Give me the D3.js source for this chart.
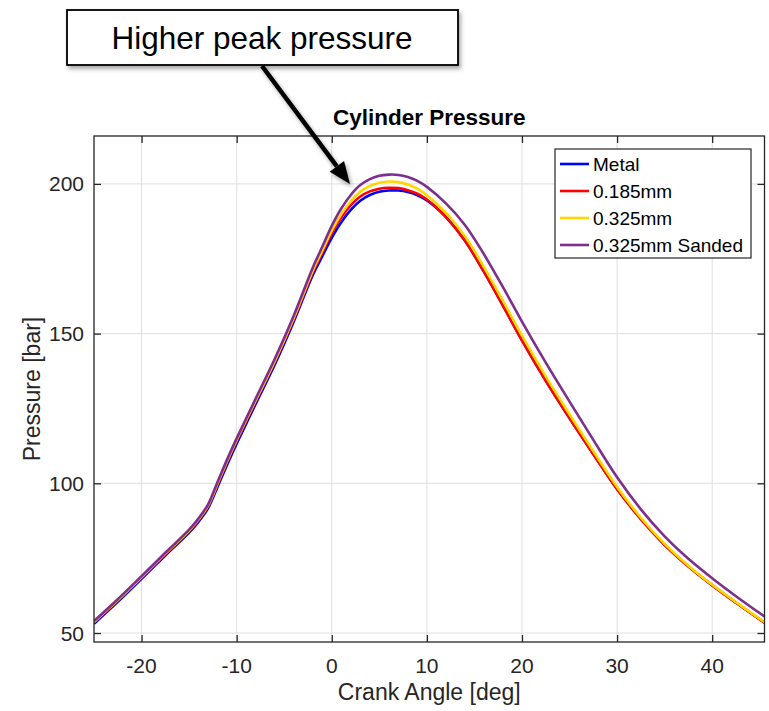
<!DOCTYPE html>
<html>
<head>
<meta charset="utf-8">
<script src="https://cdn.jsdelivr.net/npm/d3@7"></script>
<style>
  html, body { margin: 0; padding: 0; background: #fff; }
  svg { display: block; font-family: "Liberation Sans", Arial, sans-serif; }
</style>
</head>
<body>
<svg id="chart" width="769" height="711"></svg>
<script>
// ---------------- data ----------------
const angles = [-25,-22.5,-20,-17.5,-15,-14,-13,-12,-11,-10,-8,-6,-4,-2,-1,0,1,2,3,4,5,6,7,8,9,10,12,14,16,18,20,22.5,25,27.5,30,32.5,35,37.5,40,42.5,45.5];

const metal = [53.1,60.4,68.1,75.9,83.5,87.2,91.7,98.9,106.2,113.2,126.5,139.6,154.0,169.5,175.8,182.0,187.2,191.3,194.4,196.3,197.4,197.8,197.8,197.3,196.2,194.5,189.0,181.1,170.7,159.4,147.8,134.3,121.8,109.8,98.1,88.1,79.5,72.3,66.0,60.2,53.5];
const mm0185 = [53.6,60.9,68.6,76.4,84.1,87.8,92.4,99.7,107.2,114.2,127.4,140.5,154.8,170.4,177.0,183.5,188.8,192.9,195.8,197.5,198.4,198.7,198.6,197.9,196.7,194.8,188.9,181.0,170.6,159.3,147.7,134.2,121.7,109.7,98.0,88.0,79.4,72.2,65.9,60.1,53.4];
const mm0325 = [53.7,61.0,68.7,76.5,84.2,88.0,92.6,100.0,107.5,114.5,127.7,140.8,155.2,171.0,177.7,184.4,189.9,194.2,197.4,199.3,200.4,200.8,200.6,199.8,198.4,196.2,190.3,182.5,172.2,160.9,149.3,135.7,123.0,110.7,98.8,88.5,79.8,72.5,66.1,60.3,53.6];
const mm0325Sanded = [54.0,61.3,69.0,76.8,84.5,88.3,93.0,100.5,108.0,115.0,128.3,141.5,156.0,172.0,179.0,186.0,191.8,196.3,199.6,201.6,202.7,203.1,203.0,202.3,201.0,199.0,193.5,186.3,176.5,165.5,154.0,140.3,127.3,114.5,102.0,91.3,82.3,74.8,68.3,62.3,55.5];

const seriesNames = ["Metal", "0.185mm", "0.325mm", "0.325mm Sanded"];
const seriesColors = ["#0000FF", "#FF0000", "#FFD700", "#7E2F8E"];
const seriesValues = [metal, mm0185, mm0325, mm0325Sanded];

const xTicks = [-20, -10, 0, 10, 20, 30, 40];
const xTickLabels = ["-20", "-10", "0", "10", "20", "30", "40"];
const yTicks = [50, 100, 150, 200];
const yTickLabels = ["50", "100", "150", "200"];
const xDomain = [-25, 45.5];
const yDomain = [47, 216];

const titleText = "Cylinder Pressure";
const xLabelText = "Crank Angle [deg]";
const yLabelText = "Pressure [bar]";
const annotationText = "Higher peak pressure";

// ---------------- layout ----------------
const svg = d3.select("#chart");
const L = 94, R = 764.5, T = 136, B = 642;
const x = d3.scaleLinear().domain(xDomain).range([L, R]);
const y = d3.scaleLinear().domain(yDomain).range([B, T]);
const axisColor = "#262626";

const defs = svg.append("defs");
defs.append("clipPath").attr("id", "plotclip")
  .append("rect").attr("x", L).attr("y", T).attr("width", R - L).attr("height", B - T);
const f = defs.append("filter").attr("id", "shadow")
  .attr("x", "-20%").attr("y", "-20%").attr("width", "160%").attr("height", "160%");
f.append("feDropShadow").attr("dx", 2).attr("dy", 3).attr("stdDeviation", 2)
  .attr("flood-color", "#000").attr("flood-opacity", 0.35);

// background
svg.append("rect").attr("x", L).attr("y", T).attr("width", R - L).attr("height", B - T).attr("fill", "#fff");

// grid
const grid = svg.append("g");
grid.selectAll(".gx").data(xTicks).enter().append("line")
  .attr("x1", d => x(d)).attr("x2", d => x(d)).attr("y1", T).attr("y2", B)
  .attr("stroke", "#dedede").attr("stroke-width", 1);
grid.selectAll(".gy").data(yTicks).enter().append("line")
  .attr("y1", d => y(d)).attr("y2", d => y(d)).attr("x1", L).attr("x2", R)
  .attr("stroke", "#dedede").attr("stroke-width", 1);

// axes with inward ticks via d3 axis generators
const tickLen = 7;
const xAxisB = d3.axisBottom(x).tickValues(xTicks).tickSizeInner(-tickLen).tickSizeOuter(0).tickFormat("");
const xAxisT = d3.axisTop(x).tickValues(xTicks).tickSizeInner(-tickLen).tickSizeOuter(0).tickFormat("");
const yAxisL = d3.axisLeft(y).tickValues(yTicks).tickSizeInner(-tickLen).tickSizeOuter(0).tickFormat("");
const yAxisR = d3.axisRight(y).tickValues(yTicks).tickSizeInner(-tickLen).tickSizeOuter(0).tickFormat("");

function styleAxis(g) {
  g.select(".domain").remove();
  g.selectAll(".tick line").attr("stroke", axisColor).attr("stroke-width", 1.3);
}
svg.append("g").attr("transform", `translate(0,${B})`).call(xAxisB).call(styleAxis);
svg.append("g").attr("transform", `translate(0,${T})`).call(xAxisT).call(styleAxis);
svg.append("g").attr("transform", `translate(${L},0)`).call(yAxisL).call(styleAxis);
svg.append("g").attr("transform", `translate(${R},0)`).call(yAxisR).call(styleAxis);

// lines
const line = d3.line().x(d => x(d[0])).y(d => y(d[1])).curve(d3.curveCatmullRom.alpha(0.5));
const linesG = svg.append("g").attr("clip-path", "url(#plotclip)");
seriesValues.forEach((vals, i) => {
  const pts = angles.map((a, j) => [a, vals[j]]);
  linesG.append("path").datum(pts)
    .attr("d", line)
    .attr("fill", "none")
    .attr("stroke", seriesColors[i])
    .attr("stroke-width", 2.6)
    .attr("stroke-linejoin", "round");
});

// box
svg.append("rect").attr("x", L).attr("y", T).attr("width", R - L).attr("height", B - T)
  .attr("fill", "none").attr("stroke", axisColor).attr("stroke-width", 1.3);

// tick labels
svg.append("g").selectAll("text").data(xTicks).enter().append("text")
  .attr("x", d => x(d)).attr("y", 673)
  .attr("text-anchor", "middle").attr("font-size", 21).attr("fill", axisColor)
  .text((d, i) => xTickLabels[i]);
svg.append("g").selectAll("text").data(yTicks).enter().append("text")
  .attr("x", 84).attr("y", d => y(d)).attr("dy", "0.36em")
  .attr("text-anchor", "end").attr("font-size", 21).attr("fill", axisColor)
  .text((d, i) => yTickLabels[i]);

// axis labels
svg.append("text").attr("x", (L + R) / 2).attr("y", 700)
  .attr("text-anchor", "middle").attr("font-size", 23).attr("fill", axisColor)
  .text(xLabelText);
svg.append("text").attr("transform", `translate(40,${(T + B) / 2}) rotate(-90)`)
  .attr("text-anchor", "middle").attr("font-size", 23).attr("fill", axisColor)
  .text(yLabelText);

// title
svg.append("text").attr("x", (L + R) / 2).attr("y", 125)
  .attr("text-anchor", "middle").attr("font-size", 22.5).attr("font-weight", "bold").attr("fill", "#000")
  .text(titleText);

// legend
const lg = svg.append("g");
const lgX = 555, lgY = 149, lgW = 196, lgH = 109, rowH = 27, firstRow = 164;
lg.append("rect").attr("x", lgX).attr("y", lgY).attr("width", lgW).attr("height", lgH)
  .attr("fill", "#fff").attr("stroke", axisColor).attr("stroke-width", 1.2);
seriesNames.forEach((name, i) => {
  const cy = firstRow + i * rowH;
  lg.append("line").attr("x1", lgX + 5).attr("x2", lgX + 34).attr("y1", cy).attr("y2", cy)
    .attr("stroke", seriesColors[i]).attr("stroke-width", 2.6);
  lg.append("text").attr("x", lgX + 38).attr("y", cy).attr("dy", "0.36em")
    .attr("font-size", 19).attr("fill", "#000").text(name);
});

// annotation: arrow + text box
const ann = svg.append("g");
const ax0 = 262, ay0 = 66, ax1 = 350, ay1 = 184;
const ang = Math.atan2(ay1 - ay0, ax1 - ax0);
const headLen = 22, headW = 9;
const bx = ax1 - headLen * Math.cos(ang), by = ay1 - headLen * Math.sin(ang);
const arrowG = ann.append("g").attr("filter", "url(#shadow)");
arrowG.append("line").attr("x1", ax0).attr("y1", ay0).attr("x2", bx).attr("y2", by)
  .attr("stroke", "#000").attr("stroke-width", 4.5);
arrowG.append("path")
  .attr("d", `M${ax1},${ay1} L${bx + headW * Math.sin(ang)},${by - headW * Math.cos(ang)} L${bx - headW * Math.sin(ang)},${by + headW * Math.cos(ang)} Z`)
  .attr("fill", "#000");

ann.append("rect").attr("x", 67).attr("y", 10).attr("width", 391).attr("height", 55)
  .attr("fill", "#fff").attr("stroke", "#000").attr("stroke-width", 1.8)
  .attr("filter", "url(#shadow)");
ann.append("text").attr("x", 262).attr("y", 49)
  .attr("text-anchor", "middle").attr("font-size", 31.5).attr("fill", "#000")
  .text(annotationText);
</script>
</body>
</html>
